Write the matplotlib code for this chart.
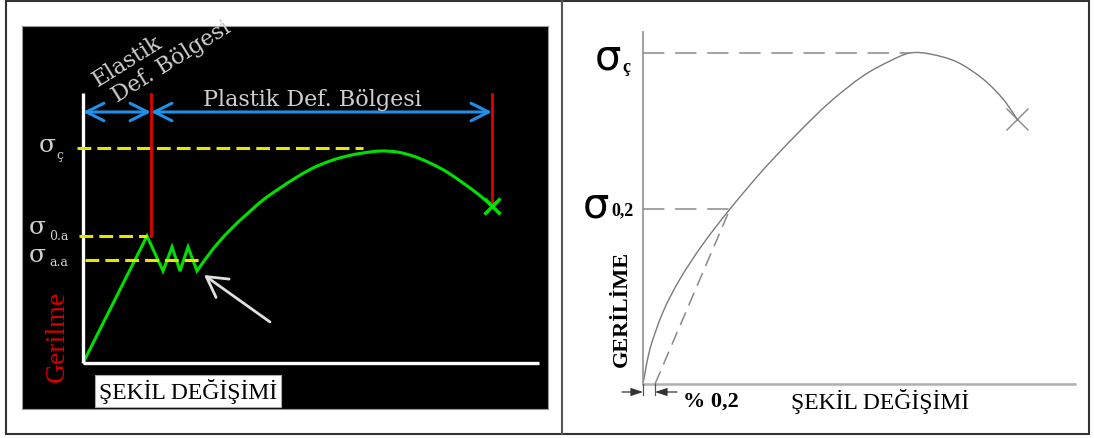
import numpy as np
import matplotlib.pyplot as plt
from matplotlib.patches import Rectangle, PathPatch
from matplotlib.lines import Line2D
from matplotlib.path import Path

# --- sol panel: yumusak celik (akma noktali) ---
left_strain = [0, 64, 80, 89, 97, 105, 114, 130, 147, 164, 180, 197, 214, 230,
               247, 264, 280, 297, 314, 330, 347, 364, 380, 395, 409]
left_stress = [0, 127, 92, 116, 92, 116, 92, 114, 133, 149, 163, 175, 186, 195,
               202, 207, 210, 212, 211, 207, 200, 191, 180, 169, 157]
n_linear = 7            # ilk 7 nokta duz cizgi (elastik + akma zikzagi)
left_sigma_c = 215      # cekme dayanimi
left_sigma_ua = 127     # ust akma
left_sigma_aa = 103     # alt akma
elastic_end = 68
fracture_left = 409

# --- sag panel: belirgin akmasi olmayan malzeme ---
right_strain = [0, 7, 20, 37, 60, 87, 120, 154, 187, 220, 247, 267, 287, 314, 340, 360, 374]
right_stress = [0, 35, 72, 105, 140, 175, 214, 250, 282, 308, 323, 331, 330, 322, 305, 285, 265]
offset_02 = 12
sigma_02 = 175
strain_02 = 87
right_sigma_c = 331
strain_c = 267

W, H = 1094, 439
fig = plt.figure(figsize=(W / 100, H / 100), dpi=100)
fig.patch.set_facecolor("white")


def fig_rect(x0, y0, x1, y1):
    return [x0 / W, 1 - y1 / H, (x1 - x0) / W, (y1 - y0) / H]


def smooth_path(xs, ys, n_straight=1):
    # noktalardan gecen Catmull-Rom egrisi (Bezier olarak)
    pts = np.column_stack([xs, ys]).astype(float)
    verts = [pts[0]]
    codes = [Path.MOVETO]
    for i in range(1, n_straight):
        verts.append(pts[i])
        codes.append(Path.LINETO)
    start = n_straight - 1
    for i in range(start, len(pts) - 1):
        p0 = pts[i - 1] if i > start else pts[i]
        p1, p2 = pts[i], pts[i + 1]
        p3 = pts[i + 2] if i + 2 < len(pts) else pts[i + 1]
        verts += [p1 + (p2 - p0) / 6, p2 - (p3 - p1) / 6, p2]
        codes += [Path.CURVE4] * 3
    return Path(verts, codes)


# cerceve
fig.add_artist(Rectangle((6 / W, 1 - 435 / H), (1089 - 6) / W, (435 - 2) / H,
                         transform=fig.transFigure, fill=False, edgecolor="#333333", lw=1.5))
fig.add_artist(Line2D([562 / W, 562 / W], [1 - 435 / H, 1 - 2 / H],
                      transform=fig.transFigure, color="#555555", lw=1.5))

# ================= sol =================
ax = fig.add_axes(fig_rect(22, 27, 548, 410))
ax.set_facecolor("black")
ax.set_xlim(-61, 465)
ax.set_ylim(-46, 337)
ax.set_xticks([])
ax.set_yticks([])
for s in ax.spines.values():
    s.set_color("#999999")
    s.set_linewidth(0.8)

grey = "#cfcfcf"
yellow = "#e6e600"
green = "#00e000"
red = "#e00000"
blue = "#1f8fe8"

ax.plot([0, 0], [0, 270], color="white", lw=2.4, solid_capstyle="butt")
ax.plot([0, 456], [0, 0], color="white", lw=2.4, solid_capstyle="butt")

ax.plot([-6, 280], [left_sigma_c, left_sigma_c], color=yellow, lw=2.2, ls=(0, (4.5, 2)))
ax.plot([-4, left_strain[1]], [left_sigma_ua, left_sigma_ua], color=yellow, lw=2.2, ls=(0, (4.5, 2)))
ax.plot([2, 117], [left_sigma_aa, left_sigma_aa], color=yellow, lw=2.2, ls=(0, (4.5, 2)))

ax.plot([elastic_end, elastic_end], [left_sigma_ua, 269], color=red, lw=2)
ax.plot([fracture_left, fracture_left], [left_stress[-1], 269], color=red, lw=2)

ax.add_patch(PathPatch(smooth_path(left_strain, left_stress, n_linear), facecolor="none",
                       edgecolor=green, lw=2.2, joinstyle="miter"))
ax.plot([left_strain[-1]], [left_stress[-1]], marker="x", color=green, ms=11, mew=2.5)

arrow_kw = dict(arrowstyle="<->,head_length=0.7,head_width=0.35", color=blue, lw=2.2,
                mutation_scale=18, shrinkA=0, shrinkB=0)
ax.annotate("", xy=(elastic_end, 251), xytext=(0, 251), arrowprops=arrow_kw)
ax.annotate("", xy=(fracture_left, 251), xytext=(elastic_end, 251), arrowprops=arrow_kw)

ax.annotate("", xy=(121, 88), xytext=(187, 41),
            arrowprops=dict(arrowstyle="->,head_length=0.8,head_width=0.45", color="#e0e0e0",
                            lw=2, mutation_scale=18, shrinkA=0, shrinkB=0))

serif = "DejaVu Serif"
ax.text(229, 264, "Plastik Def. Bölgesi", color=grey, fontsize=16, family=serif,
        ha="center", va="center")
ax.text(15, 277, "Elastik", color=grey, fontsize=16, family=serif, rotation=32,
        rotation_mode="anchor", ha="left", va="baseline")
ax.text(34, 261, "Def. Bölgesi", color=grey, fontsize=16, family=serif, rotation=32,
        rotation_mode="anchor", ha="left", va="baseline")

ax.text(-36, 218, "σ", color=grey, fontsize=18, family=serif, ha="center", va="center")
ax.text(-23, 208, "ç", color=grey, fontsize=9, family=serif, ha="center", va="center")
ax.text(-46, 136, "σ", color=grey, fontsize=18, family=serif, ha="center", va="center")
ax.text(-24, 127, "0.a", color=grey, fontsize=9, family=serif, ha="center", va="center")
ax.text(-46, 108, "σ", color=grey, fontsize=18, family=serif, ha="center", va="center")
ax.text(-24, 101, "a.a", color=grey, fontsize=9, family=serif, ha="center", va="center")

ax.text(-26, 28, "Gerilme", color="#d40000", fontsize=20, family="Liberation Serif",
        rotation=90, ha="center", va="center")
ax.text(105, -28, "ŞEKİL DEĞİŞİMİ", color="black", fontsize=17, family="Liberation Serif",
        ha="center", va="center",
        bbox=dict(facecolor="white", edgecolor="#aaaaaa", lw=0.8, pad=2.5))

# ================= sag =================
bx = fig.add_axes(fig_rect(562, 2, 1089, 435))
bx.set_xlim(-81, 446)
bx.set_ylim(-50, 383)
bx.axis("off")

bx.plot([0, 0], [0, 352], color="#9a9a9a", lw=1.3)
bx.plot([0, 432], [0, 0], color="#b0b0b0", lw=1.8)

bx.plot([0, strain_c], [right_sigma_c, right_sigma_c], color="#8a8a8a", lw=1.1, ls=(0, (14, 7)))
bx.plot([0, strain_02], [sigma_02, sigma_02], color="#8a8a8a", lw=1.1, ls=(0, (14, 7)))
bx.plot([offset_02, strain_02], [0, sigma_02], color="#8a8a8a", lw=1.1, ls=(0, (9, 5)))

bx.add_patch(PathPatch(smooth_path(right_strain, right_stress), facecolor="none",
                       edgecolor="#7a7a7a", lw=1))
bx.plot([right_strain[-1]], [right_stress[-1]], marker="x", color="#8a8a8a", ms=16, mew=1)

# %0,2 olcu oklari
bx.plot([0, 0], [0, -11], color="#555555", lw=0.9)
bx.plot([offset_02, offset_02], [0, -11], color="#555555", lw=0.9)
dim_kw = dict(arrowstyle="-|>,head_length=0.6,head_width=0.2", color="#333333", lw=0.9,
              mutation_scale=12, shrinkA=0, shrinkB=0)
bx.annotate("", xy=(0, -8), xytext=(-21, -8), arrowprops=dim_kw)
bx.annotate("", xy=(offset_02, -8), xytext=(34, -8), arrowprops=dim_kw)

bx.text(-35, 328, "σ", fontsize=30, family="DejaVu Sans", ha="center", va="center")
bx.text(-17, 318, "ç", fontsize=13, family="Liberation Serif", weight="bold",
        ha="center", va="center")
bx.text(-47, 180, "σ", fontsize=30, family="DejaVu Sans", ha="center", va="center")
bx.text(-20, 174, "0,2", fontsize=13, family="Liberation Serif", weight="bold",
        ha="center", va="center")

bx.text(-21, 76, "GERİLİME", fontsize=16, family="Liberation Serif", weight="bold",
        rotation=90, ha="center", va="center")
bx.text(68, -17, "% 0,2", fontsize=16, family="Liberation Serif", weight="bold",
        ha="center", va="center")
bx.text(237, -17, "ŞEKİL DEĞİŞİMİ", fontsize=17, family="Liberation Serif",
        ha="center", va="center")

fig.savefig("out.png", dpi=100, facecolor="white")
